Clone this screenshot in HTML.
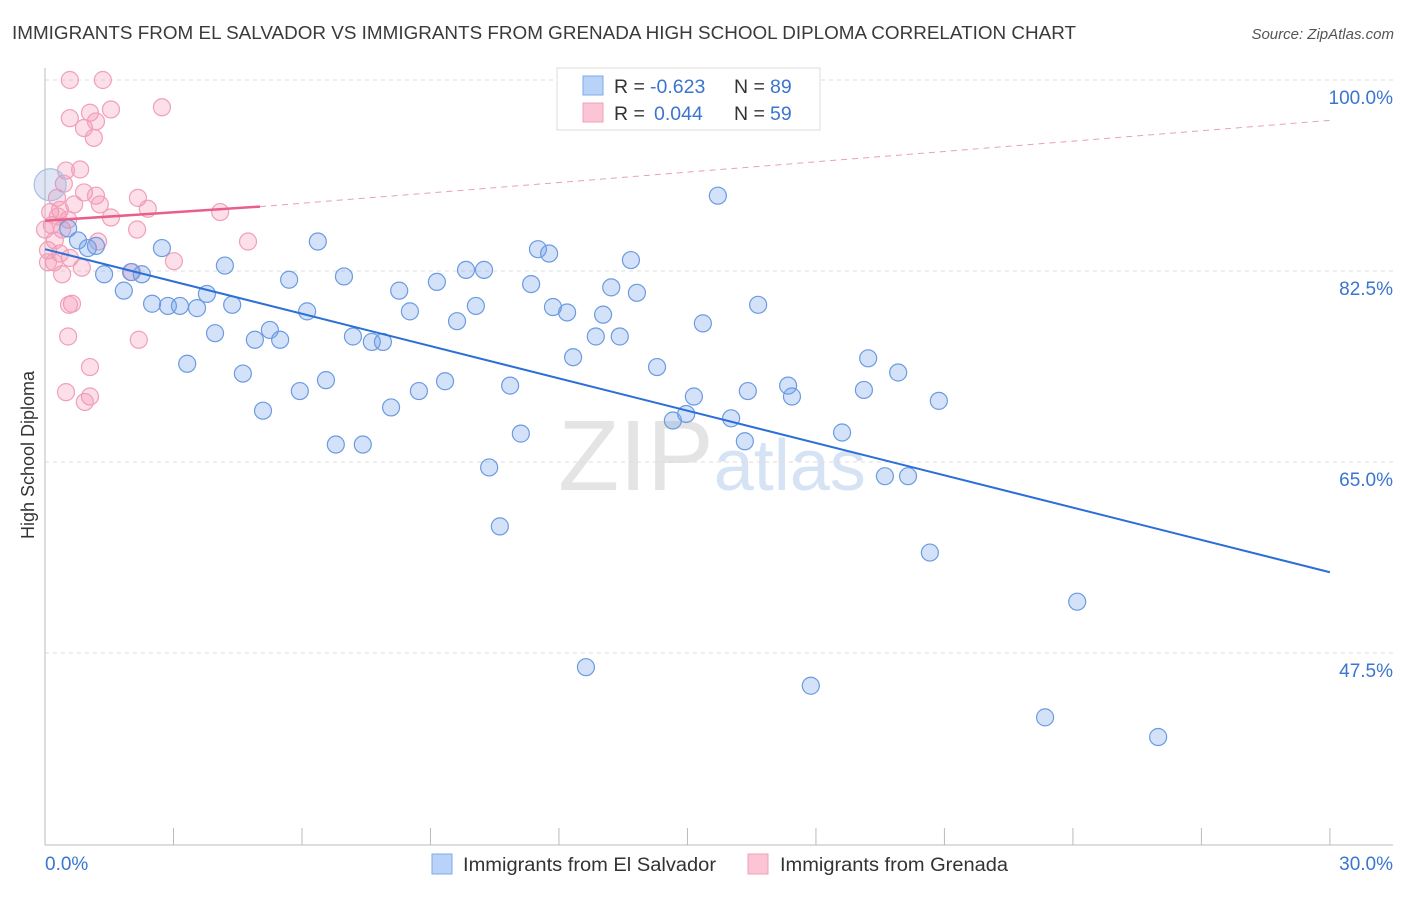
<!DOCTYPE html>
<html><head><meta charset="utf-8"><style>
body{margin:0;background:#fff;font-family:"Liberation Sans",sans-serif;}
svg text{font-family:"Liberation Sans",sans-serif;}
</style></head><body>
<svg id="chart" width="1406" height="892" xmlns="http://www.w3.org/2000/svg">
<text x="12" y="39" font-size="18.6" fill="#3a3a3a" textLength="1064" lengthAdjust="spacingAndGlyphs">IMMIGRANTS FROM EL SALVADOR VS IMMIGRANTS FROM GRENADA HIGH SCHOOL DIPLOMA CORRELATION CHART</text>
<text x="1394" y="39" font-size="15" fill="#555" text-anchor="end" font-style="italic">Source: ZipAtlas.com</text>
<text x="712" y="490" font-size="100" fill="#e4e4e4" text-anchor="middle" font-family="Liberation Serif">ZIP<tspan fill="#d5e3f5" font-family="Liberation Sans" font-size="72">atlas</tspan></text>
<g id="grid"></g><g id="axes"></g><g id="pts"></g><g id="trends"></g>
<text transform="translate(34,455) rotate(-90)" font-size="18" fill="#333" text-anchor="middle">High School Diploma</text>
<g>
<rect x="557" y="68" width="263" height="62" fill="#fff" stroke="#ddd"/>
<rect x="583" y="76" width="20" height="19" fill="#b8d3f7" stroke="#7faae8"/>
<rect x="583" y="103" width="20" height="19" fill="#fbc5d5" stroke="#f0a0b8"/>
<text x="614" y="93" font-size="19.5" fill="#333">R =</text>
<text x="650" y="93" font-size="19.5" fill="#3a75d0">-0.623</text>
<text x="734" y="93" font-size="19.5" fill="#333">N =</text>
<text x="770" y="93" font-size="19.5" fill="#3a75d0">89</text>
<text x="614" y="120" font-size="19.5" fill="#333">R =</text>
<text x="654" y="120" font-size="19.5" fill="#3a75d0">0.044</text>
<text x="734" y="120" font-size="19.5" fill="#333">N =</text>
<text x="770" y="120" font-size="19.5" fill="#3a75d0">59</text>
</g>
<g>
<rect x="432" y="854" width="20" height="20" fill="#b8d3f7" stroke="#7faae8"/>
<text x="463" y="871" font-size="19" fill="#333" textLength="253" lengthAdjust="spacingAndGlyphs">Immigrants from El Salvador</text>
<rect x="748" y="854" width="20" height="20" fill="#fbc5d5" stroke="#f0a0b8"/>
<text x="780" y="871" font-size="19" fill="#333" textLength="228" lengthAdjust="spacingAndGlyphs">Immigrants from Grenada</text>
</g>
</svg>
<script>
const yTicks=[100,82.5,65,47.5];
const yTickLabels=["100.0%","82.5%","65.0%","47.5%"];
const xTicks=[0,3,6,9,12,15,18,21,24,27,30];
const blueX=[0.12,0.54,0.77,1.19,1.00,1.38,1.84,2.26,2.73,2.01,2.50,2.87,3.15,3.55,3.78,4.20,3.97,4.37,3.32,4.62,4.90,5.25,5.49,5.09,5.70,5.95,6.12,6.37,6.56,6.79,6.98,7.19,7.42,7.63,7.89,8.08,8.27,8.52,8.73,9.15,9.34,9.62,9.83,10.06,10.25,10.37,10.62,10.86,11.11,11.35,11.51,11.77,11.86,12.19,12.33,12.63,12.86,13.03,13.22,13.42,13.68,13.82,14.29,14.66,14.97,15.15,15.36,15.71,16.02,16.34,16.41,16.65,17.35,17.44,17.88,18.61,19.12,19.22,19.61,19.92,20.15,20.66,20.87,23.35,24.10,25.99];
const blueY=[90.4,86.4,85.3,84.8,84.6,82.2,80.7,82.2,84.6,82.4,79.5,79.3,79.3,79.1,80.4,83.0,76.8,79.4,74.0,73.1,76.2,77.1,76.2,69.7,81.7,71.5,78.8,85.2,72.5,66.6,82.0,76.5,66.6,76.0,76.0,70.0,80.7,78.8,71.5,81.5,72.4,77.9,82.6,79.3,82.6,64.5,59.1,72.0,67.6,81.3,84.5,84.1,79.2,78.7,74.6,46.2,76.5,78.5,81.0,76.5,83.5,80.5,73.7,68.8,69.4,71.0,77.7,89.4,69.0,66.9,71.5,79.4,72.0,71.0,44.5,67.7,71.6,74.5,63.7,73.2,63.7,56.7,70.6,41.6,52.2,39.8];
const pinkX=[0.58,1.35,2.73,1.54,0.58,0.91,1.05,1.19,1.14,0.82,0.49,0.44,0.91,1.19,0.68,0.28,0.12,0.35,1.28,1.54,2.17,2.40,4.09,0.54,0.16,0.40,1.24,2.15,4.74,0.07,0.35,0.58,0.21,0.86,2.03,3.01,0.40,0.63,0.56,0.54,2.19,1.05,0.49,1.05,0.93,0.23,0,0.30,0.07];
const pinkY=[100,100,97.5,97.3,96.5,95.6,97.0,96.2,94.7,91.8,91.7,90.5,89.7,89.4,88.6,89.2,87.9,88.1,88.6,87.4,89.2,88.2,87.9,87.2,86.7,86.3,85.2,86.3,85.2,84.4,84.1,83.7,83.3,82.8,82.4,83.4,82.2,79.5,79.4,76.5,76.2,73.7,71.4,71.0,70.5,85.3,86.3,87.5,83.3];
const blueTrend=[[0,84.5],[30,54.9]];
const pinkTrend=[[0,87.1],[5.02,88.4],[30,96.3]];
const X=v=>45+v*42.83, Y=v=>80+(100-v)*10.914;
const NS="http://www.w3.org/2000/svg";
function mk(p,t,a){const e=document.createElementNS(NS,t);for(const k in a)e.setAttribute(k,a[k]);p.appendChild(e);return e;}
const grid=document.getElementById('grid'),axes=document.getElementById('axes'),pts=document.getElementById('pts'),tr=document.getElementById('trends');
yTicks.forEach((v,i)=>{
 const l=mk(grid,'line',{x1:45,x2:1393,y1:Y(v),y2:Y(v),stroke:'#ddd','stroke-dasharray':'4,4'});
 
 
 const t=mk(grid,'text',{x:1393,y:Y(v)+24,'font-size':19,fill:'#3a75d0','text-anchor':'end'});
 t.textContent=yTickLabels[i];
 
 
});
mk(axes,'line',{x1:45,x2:45,y1:68,y2:845,stroke:'#bbb'});
mk(axes,'line',{x1:45,x2:1393,y1:845,y2:845,stroke:'#bbb'});
xTicks.forEach(v=>{const t=mk(axes,'line',{x1:X(v),x2:X(v),y1:828,y2:845,stroke:'#bbb'});
 
 });
let a=mk(axes,'text',{x:45,y:870,'font-size':19,fill:'#3a75d0'});a.textContent='0.0%';


a=mk(axes,'text',{x:1393,y:870,'font-size':19,fill:'#3a75d0','text-anchor':'end'});a.textContent='30.0%';


pinkX.forEach((x,i)=>{const c=mk(pts,'circle',{cx:X(x),cy:Y(pinkY[i]),r:8.5,fill:'rgba(245,150,180,0.3)',stroke:'#f0a0b8','stroke-width':1.2});
 
 });
blueX.forEach((x,i)=>{const c=mk(pts,'circle',{cx:X(x),cy:Y(blueY[i]),r:i==0?16:8.5,fill:i==0?'rgba(150,170,220,0.3)':'rgba(110,160,235,0.3)',stroke:i==0?'#a8bfe6':'#6b9be0','stroke-width':1.2});
 
 });
let l=mk(tr,'line',{x1:X(blueTrend[0][0]),y1:Y(blueTrend[0][1]),x2:X(blueTrend[1][0]),y2:Y(blueTrend[1][1]),stroke:'#2c6fd6','stroke-width':2});


l=mk(tr,'line',{x1:X(pinkTrend[0][0]),y1:Y(pinkTrend[0][1]),x2:X(pinkTrend[1][0]),y2:Y(pinkTrend[1][1]),stroke:'#e8608a','stroke-width':2.5});


l=mk(tr,'line',{x1:X(pinkTrend[1][0]),y1:Y(pinkTrend[1][1]),x2:X(pinkTrend[2][0]),y2:Y(pinkTrend[2][1]),stroke:'#e8a0b5','stroke-width':1,'stroke-dasharray':'6,5'});


</script>
</body></html>
